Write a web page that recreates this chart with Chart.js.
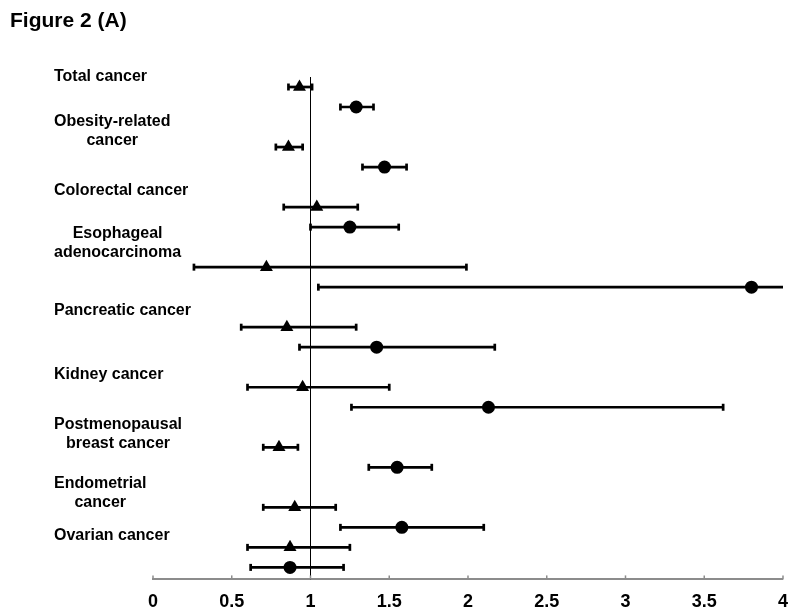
<!DOCTYPE html>
<html>
<head>
<meta charset="utf-8">
<script src="https://cdn.jsdelivr.net/npm/chart.js@4.4.1/dist/chart.umd.min.js"></script>
<style>
  body { margin: 0; background: #fff; }
  #wrap { width: 800px; height: 615px; position: relative; }
</style>
</head>
<body>
<div id="wrap"><canvas id="forestChart"></canvas></div>
<script>
// Row labels (multi-line labels split into lines)
const cancerLabels = [
    ['Total cancer'],
    ['Obesity-related', 'cancer'],
    ['Colorectal cancer'],
    ['Esophageal', 'adenocarcinoma'],
    ['Pancreatic cancer'],
    ['Kidney cancer'],
    ['Postmenopausal', 'breast cancer'],
    ['Endometrial', 'cancer'],
    ['Ovarian cancer']
];
// where each label sits on the row axis
const labelRows = [-0.52, 2.2, 5.2, 7.8, 11.15, 14.37, 17.35, 20.3, 22.4];

// Triangle series (estimate + CI)
const triRows = [0, 3, 6, 9, 12, 15, 18, 21, 23];
const triEst  = [0.93, 0.86, 1.04, 0.72, 0.85, 0.95, 0.80, 0.90, 0.87];
const triLow  = [0.86, 0.78, 0.83, 0.26, 0.56, 0.60, 0.70, 0.70, 0.60];
const triHigh = [1.01, 0.95, 1.30, 1.99, 1.29, 1.50, 0.92, 1.16, 1.25];

// Circle series (estimate + CI)
const circRows = [1, 4, 7, 10, 13, 16, 19, 22, 24];
const circEst  = [1.29, 1.47, 1.25, 3.80, 1.42, 2.13, 1.55, 1.58, 0.87];
const circLow  = [1.19, 1.33, 1.00, 1.05, 0.93, 1.26, 1.37, 1.19, 0.62];
const circHigh = [1.40, 1.61, 1.56, 4.40, 2.17, 3.62, 1.77, 2.10, 1.21];

// x axis ticks
const xTicks = [0, 0.5, 1, 1.5, 2, 2.5, 3, 3.5, 4];
const refValue = 1;

const FONT = '"Liberation Sans", Arial, Helvetica, sans-serif';

function toPoints(est, rows, low, high) {
    return est.map((v, i) => ({ x: v, y: rows[i], low: low[i], high: high[i] }));
}

// Draws CI bars behind the markers, clipped to the plot area
const errorBarPlugin = {
    id: 'errorBars',
    beforeDatasetsDraw(chart) {
        const ctx = chart.ctx;
        const xs = chart.scales.x, ys = chart.scales.y;
        const area = chart.chartArea;
        ctx.save();
        // reference line at 1
        const rx = Math.round(xs.getPixelForValue(refValue)) + 0.5;
        ctx.strokeStyle = '#000';
        ctx.lineWidth = 1;
        ctx.beginPath();
        ctx.moveTo(rx, area.top);
        ctx.lineTo(rx, area.bottom);
        ctx.stroke();

        ctx.beginPath();
        ctx.rect(area.left, 0, area.right - area.left, chart.height);
        ctx.clip();
        ctx.lineWidth = 2.7;
        ctx.strokeStyle = '#000';
        chart.data.datasets.forEach(ds => {
            ds.data.forEach(p => {
                const y = ys.getPixelForValue(p.y);
                const x1 = xs.getPixelForValue(p.low);
                const x2 = xs.getPixelForValue(p.high);
                ctx.beginPath();
                ctx.moveTo(x1, y);
                ctx.lineTo(x2, y);
                ctx.stroke();
                [x1, x2].forEach(x => {
                    ctx.beginPath();
                    ctx.moveTo(x, y - 3.5);
                    ctx.lineTo(x, y + 3.5);
                    ctx.stroke();
                });
            });
        });
        ctx.restore();
    }
};

// Row labels, title and inward tick marks
const annotatePlugin = {
    id: 'annotate',
    afterDraw(chart) {
        const ctx = chart.ctx;
        const xs = chart.scales.x, ys = chart.scales.y;
        ctx.save();
        ctx.fillStyle = '#000';
        ctx.textBaseline = 'middle';

        ctx.font = 'bold 21px ' + FONT;
        ctx.textAlign = 'left';
        ctx.fillText('Figure 2 (A)', 10, 21);

        ctx.font = 'bold 16px ' + FONT;
        ctx.textAlign = 'center';
        const lineH = 19.5;
        cancerLabels.forEach((lines, i) => {
            const w = Math.max(...lines.map(l => ctx.measureText(l).width));
            const cx = 54 + w / 2;
            const cy = ys.getPixelForValue(labelRows[i]);
            lines.forEach((l, j) => {
                ctx.fillText(l, cx, cy + (j - (lines.length - 1) / 2) * lineH);
            });
        });

        ctx.strokeStyle = '#8c8c8c';
        ctx.lineWidth = 1.5;
        const yb = chart.chartArea.bottom;
        xTicks.forEach(t => {
            const x = xs.getPixelForValue(t);
            ctx.beginPath();
            ctx.moveTo(x, yb);
            ctx.lineTo(x, yb - 4);
            ctx.stroke();
        });
        ctx.restore();
    }
};

const chart = new Chart(document.getElementById('forestChart'), {
    type: 'scatter',
    data: {
        datasets: [
            {
                label: 'triangle',
                data: toPoints(triEst, triRows, triLow, triHigh),
                pointStyle: 'triangle',
                pointRadius: 7.5,
                backgroundColor: '#000',
                borderColor: '#000',
                borderWidth: 0
            },
            {
                label: 'circle',
                data: toPoints(circEst, circRows, circLow, circHigh),
                pointStyle: 'circle',
                pointRadius: 6.5,
                backgroundColor: '#000',
                borderColor: '#000',
                borderWidth: 0
            }
        ]
    },
    options: {
        responsive: true,
        maintainAspectRatio: false,
        animation: false,
        layout: { padding: { left: 153, right: 9, top: 77, bottom: -10 } },
        plugins: {
            legend: { display: false },
            tooltip: { enabled: false }
        },
        scales: {
            x: {
                type: 'linear',
                min: 0,
                max: 4,
                afterBuildTicks: axis => { axis.ticks = xTicks.map(v => ({ value: v })); },
                grid: { display: false, drawTicks: false },
                border: { display: true, color: '#8c8c8c', width: 2 },
                ticks: {
                    color: '#000',
                    padding: 12,
                    font: { family: FONT, size: 18, weight: 'bold' },
                    maxRotation: 0,
                    callback: v => String(v)
                }
            },
            y: {
                type: 'linear',
                display: false,
                reverse: true,
                min: -0.5,
                max: 24.6
            }
        }
    },
    plugins: [errorBarPlugin, annotatePlugin]
});
</script>
</body>
</html>
